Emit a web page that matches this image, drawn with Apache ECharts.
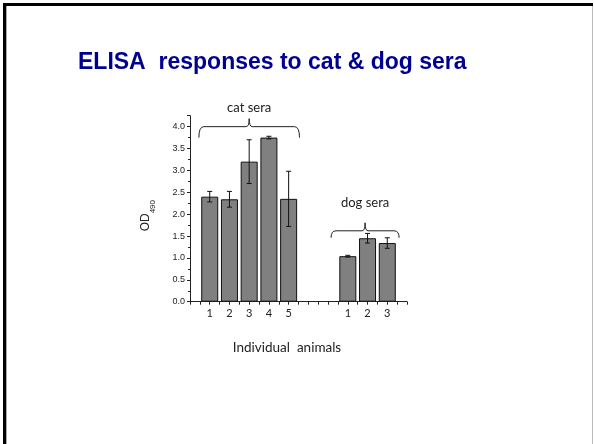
<!DOCTYPE html>
<html>
<head>
<meta charset="utf-8">
<script src="https://cdn.jsdelivr.net/npm/echarts@6/dist/echarts.min.js"></script>
<style>html,body{margin:0;padding:0;background:#fff;}#c{width:594px;height:444px;}</style>
</head>
<body>
<div id="c"></div>
<script>
// ---- data ----
const catLabels = ['1', '2', '3', '4', '5'];
const catValues = [2.40, 2.34, 3.20, 3.75, 2.35];
const catErrors = [0.12, 0.18, 0.50, 0.03, 0.63];
const dogLabels = ['1', '2', '3'];
const dogValues = [1.04, 1.45, 1.34];
const dogErrors = [0.02, 0.11, 0.12];
const groupNames = ['cat sera', 'dog sera'];
const yTickValues = [0, 0.5, 1.0, 1.5, 2.0, 2.5, 3.0, 3.5, 4.0];

// ---- layout ----
const catStart = 1, dogStart = 8;
const braces = [
  {x0: 0.45, x1: 5.55, y: 4.0, drop: 11, rise: 8, gap: 4},
  {x0: 7.15, x1: 10.6, y: 1.62, drop: 7, rise: 8, gap: 13}
];

const labelAt = {};
catLabels.forEach((l, i) => labelAt[catStart + i] = l);
dogLabels.forEach((l, i) => labelAt[dogStart + i] = l);

const barData = [];
const errData = [];
catValues.forEach((v, i) => { barData.push([catStart + i, v]); errData.push([catStart + i, v - catErrors[i], v + catErrors[i]]); });
dogValues.forEach((v, i) => { barData.push([dogStart + i, v]); errData.push([dogStart + i, v - dogErrors[i], v + dogErrors[i]]); });

const braceData = braces.map((b, i) => [b.x0, b.x1, b.y, i]);

const chart = echarts.init(document.getElementById('c'), null, {renderer: 'canvas'});
chart.setOption({
  animation: false,
  backgroundColor: '#fff',
  title: [
    {text: 'ELISA  responses to cat & dog sera', left: 73, top: 46,
     textStyle: {fontFamily: 'Liberation Sans', fontWeight: 'bold', fontSize: 23, color: '#000090'}},
    {text: 'Individual  animals', left: 282, top: 336, textAlign: 'center',
     textStyle: {fontFamily: 'Lato', fontWeight: 'normal', fontSize: 13.5, color: '#222'}}
  ],
  graphic: [
    {type: 'rect', shape: {x: 3, y: 3, width: 3, height: 441}, style: {fill: '#000'}},
    {type: 'rect', shape: {x: 3, y: 3, width: 590, height: 3}, style: {fill: '#000'}},
    {type: 'rect', shape: {x: 6, y: 6, width: 1, height: 438}, style: {fill: '#aaa'}},
    {type: 'rect', shape: {x: 592, y: 6, width: 1, height: 438}, style: {fill: '#bbb'}}
  ],
  grid: {left: 190, top: 115.7, width: 217, height: 186},
  xAxis: {
    type: 'value', min: 0, max: 11, interval: 1,
    axisLine: {lineStyle: {color: '#222', width: 1}},
    axisTick: {show: true, length: 3, lineStyle: {color: '#222'}},
    minorTick: {show: true, splitNumber: 2, length: 3, lineStyle: {color: '#222'}},
    splitLine: {show: false},
    axisLabel: {formatter: v => labelAt[v] || '', fontFamily: 'Lato', fontSize: 11, color: '#222', margin: 6,
      showMinLabel: true, showMaxLabel: true}
  },
  yAxis: {
    type: 'value', min: 0, max: 4.25, interval: 0.5,
    name: '{a|OD}{b|490}', nameLocation: 'middle', nameRotate: 90, nameGap: 37,
    nameTextStyle: {
      rich: {
        a: {fontFamily: 'Liberation Sans', fontSize: 12, color: '#222', height: 14, verticalAlign: 'bottom'},
        b: {fontFamily: 'Liberation Sans', fontSize: 8, color: '#222', verticalAlign: 'bottom', padding: [0, 14, -4, 0]}
      }
    },
    axisLine: {show: true, lineStyle: {color: '#222', width: 1}},
    axisTick: {show: true, length: 3, lineStyle: {color: '#222'}},
    minorTick: {show: true, splitNumber: 2, length: 2, lineStyle: {color: '#222'}},
    splitLine: {show: false},
    axisLabel: {fontFamily: 'Liberation Sans', fontSize: 9, color: '#222', margin: 5,
      showMaxLabel: false,
      formatter: v => yTickValues.indexOf(v) >= 0 ? v.toFixed(1) : ''}
  },
  series: [
    {type: 'bar', data: barData, barWidth: 17,
     itemStyle: {color: '#808080', borderColor: '#111', borderWidth: 1}},
    {type: 'custom', data: errData, z: 5,
     renderItem: function (params, api) {
       const x = api.value(0);
       const lo = api.coord([x, api.value(1)]);
       const hi = api.coord([x, api.value(2)]);
       const c = 2.5;
       const st = {stroke: '#111', lineWidth: 1};
       return {type: 'group', children: [
         {type: 'line', shape: {x1: lo[0], y1: lo[1], x2: hi[0], y2: hi[1]}, style: st},
         {type: 'line', shape: {x1: lo[0] - c, y1: lo[1], x2: lo[0] + c, y2: lo[1]}, style: st},
         {type: 'line', shape: {x1: hi[0] - c, y1: hi[1], x2: hi[0] + c, y2: hi[1]}, style: st}
       ]};
     }},
    {type: 'custom', data: braceData, z: 6, clip: false,
     renderItem: function (params, api) {
       const b = braces[api.value(3)];
       const p0 = api.coord([api.value(0), api.value(2)]);
       const p1 = api.coord([api.value(1), api.value(2)]);
       const x0 = p0[0], x1 = p1[0], y = p0[1], m = (x0 + x1) / 2;
       const d = 'M' + x0 + ' ' + (y + b.drop) +
         ' Q' + x0 + ' ' + y + ' ' + (x0 + 5) + ' ' + y +
         ' L' + (m - 3) + ' ' + y +
         ' Q' + m + ' ' + y + ' ' + m + ' ' + (y - b.rise) +
         ' Q' + m + ' ' + y + ' ' + (m + 3) + ' ' + y +
         ' L' + (x1 - 5) + ' ' + y +
         ' Q' + x1 + ' ' + y + ' ' + x1 + ' ' + (y + b.drop);
       return {type: 'group', children: [
         {type: 'path', shape: {pathData: d}, style: {stroke: '#222', fill: null, lineWidth: 1}},
         {type: 'text', style: {text: groupNames[api.value(3)], x: m, y: y - b.rise - b.gap,
           textAlign: 'center', textVerticalAlign: 'bottom', fontFamily: 'Lato', fontSize: 13, fill: '#222'}}
       ]};
     }}
  ]
});
</script>
</body>
</html>
